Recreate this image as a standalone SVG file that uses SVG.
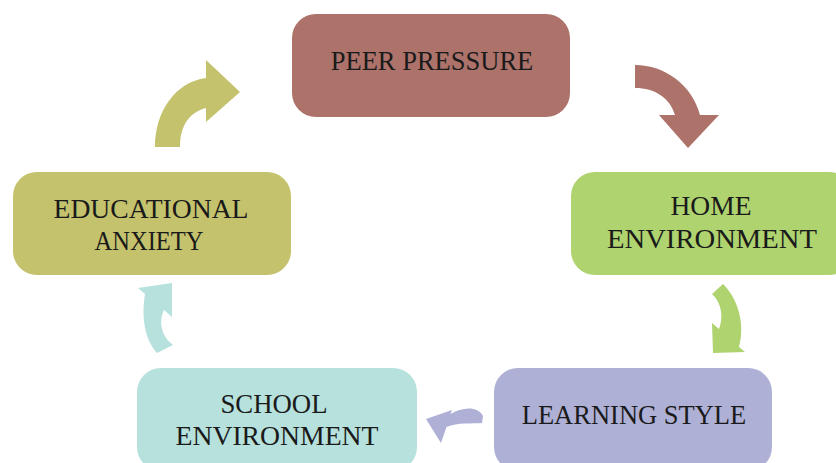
<svg xmlns="http://www.w3.org/2000/svg" width="836" height="463" viewBox="0 0 836 463">
<style>
.box{stroke:none}
.lbl{font-family:"Liberation Serif","Times New Roman",serif;font-size:26.5px;fill:#1a1a1a;text-anchor:middle}
</style>
<rect width="836" height="463" fill="#ffffff"/>
<g id="connectors">
<path id="c1" fill="#c5c26d" d="M155,147 C155,112 175,82 206,78 L206,60 L240,92 L206,122 L206,108 C190,112 180,125 180,147 Z"/>
<path id="c2" fill="#ad726a" d="M635,65 C665,65 692,85 700,115 L719,115 L688,148 L659,115 L675,115 C670,98 655,88 635,88 Z"/>
<path id="c3" fill="#aed36f" d="M723,284 C739,300 745,325 739,347 L745,352 L713,353 L712,323 L719,329 C724,316 721,302 712,294 Z"/>
<path id="c4" fill="#aeb0d6" d="M426,419 L452,410 L450.5,414 C461,408 477,405 483,416 L482,423 C472,424 458,422 446.5,427 L441,443 Z"/>
<path id="c5" fill="#b6e1dc" d="M172,283 L172,317 L164,310 C159,320 160,335 173,345 L157,353 C145,340 141,318 145,294 L138,288 Z"/>
</g>
<g id="peer">
<rect class="box" x="292" y="14" width="278" height="103" rx="24" fill="#ad726a"/>
<text class="lbl" x="432" y="70">PEER PRESSURE</text>
</g>
<g id="home">
<rect class="box" x="571" y="172" width="282" height="103" rx="24" fill="#aed36f"/>
<text class="lbl" x="711" y="215" textLength="81" lengthAdjust="spacingAndGlyphs">HOME</text>
<text class="lbl" x="712" y="248" textLength="210" lengthAdjust="spacingAndGlyphs">ENVIRONMENT</text>
</g>
<g id="learning">
<rect class="box" x="494" y="368" width="278" height="103" rx="24" fill="#aeb0d6"/>
<text class="lbl" x="634" y="424">LEARNING STYLE</text>
</g>
<g id="school">
<rect class="box" x="137" y="368" width="280" height="103" rx="24" fill="#b6e1dc"/>
<text class="lbl" x="274" y="413" textLength="107" lengthAdjust="spacingAndGlyphs">SCHOOL</text>
<text class="lbl" x="277" y="445" textLength="203" lengthAdjust="spacingAndGlyphs">ENVIRONMENT</text>
</g>
<g id="educational">
<rect class="box" x="13" y="172" width="278" height="103" rx="24" fill="#c5c26d"/>
<text class="lbl" x="151" y="218" textLength="195" lengthAdjust="spacingAndGlyphs">EDUCATIONAL</text>
<text class="lbl" x="149" y="250" textLength="109" lengthAdjust="spacingAndGlyphs">ANXIETY</text>
</g>
</svg>
